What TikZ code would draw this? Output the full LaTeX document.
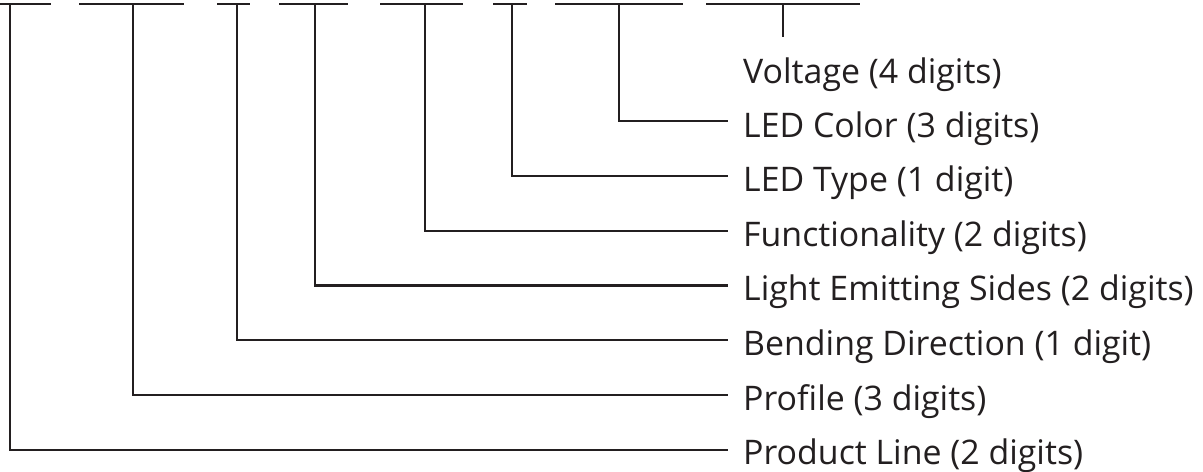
\documentclass[tikz,border=0pt]{standalone}
\usepackage{fontspec}
\setmainfont{Open Sans}
\definecolor{ink}{HTML}{231F20}
\begin{document}
\begin{tikzpicture}[x=1bp,y=-1bp,
  bar/.style={draw=ink,line width=2.4bp},
  conn/.style={draw=ink,line width=2.4bp},
  lbl/.style={anchor=base west,inner sep=0pt,text=ink,font=\fontsize{34}{40}\selectfont}]
\useasboundingbox (0,0) rectangle (1203,472);
% top bars
\foreach \a/\b in {0/51,79/184,217/250,279/348,380/463,493/527,555/683,706/860}
  \draw[bar] (\a,4) -- (\b,4);
% coordinates
\foreach \n/\x/\y in {a/10/450,b/133/395,c/237/340,d/315/285.5,e/425/231,f/512/176,g/619/121}{
  \coordinate (t\n) at (\x,4);
  \coordinate (e\n) at (728,\y);
}
\coordinate (th) at (783,4);
\coordinate (eh) at (783,37);
% labels
\node[lbl] (la) at (743,465) {Product Line (2 digits)};
\node[lbl] (lb) at (743,410.5) {Profile (3 digits)};
\node[lbl] (lc) at (743,356) {Bending Direction (1 digit)};
\node[lbl] (ld) at (743,301) {Light Emitting Sides (2 digits)};
\node[lbl] (le) at (743,247) {Functionality (2 digits)};
\node[lbl] (lf) at (743,192) {LED Type (1 digit)};
\node[lbl] (lg) at (743,137.5) {LED Color (3 digits)};
\node[lbl] (lh) at (743,84) {Voltage (4 digits)};
% connectors
\foreach \n in {a,b,c,d,e,f,g}
  \draw[conn] (t\n) |- (e\n);
\draw[conn] (th) -- (eh);
\end{tikzpicture}
\end{document}
